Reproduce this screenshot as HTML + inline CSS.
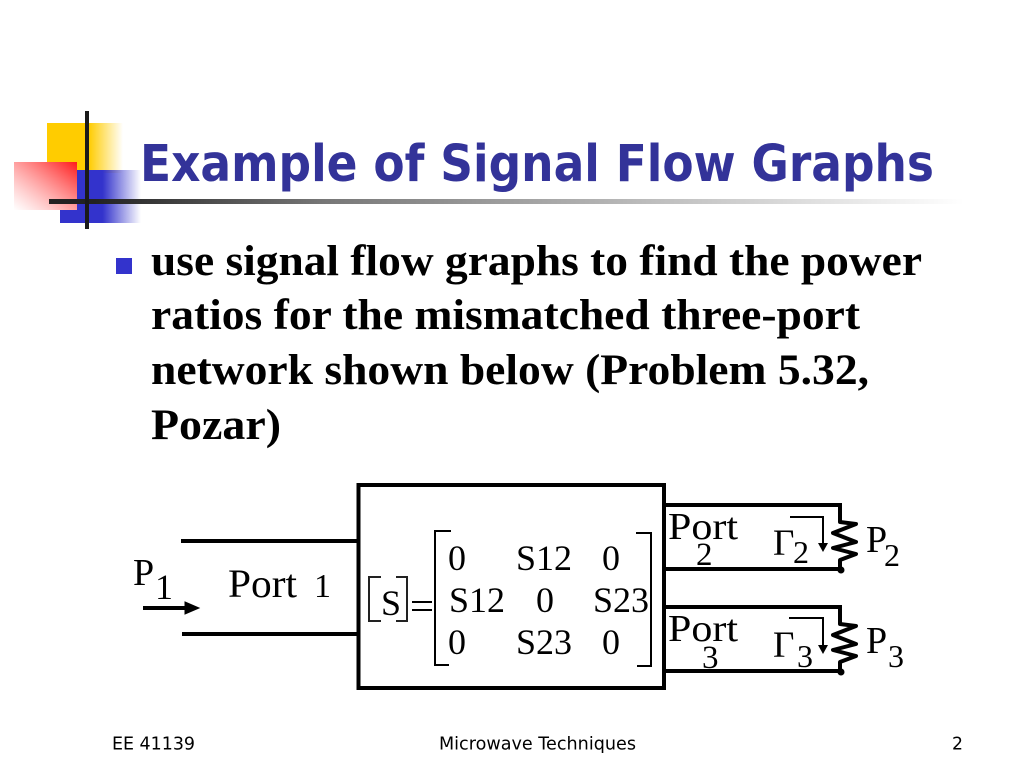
<!DOCTYPE html>
<html><head><meta charset="utf-8"><style>html,body{margin:0;padding:0;background:#fff}svg{display:block}</style></head>
<body>
<svg xmlns="http://www.w3.org/2000/svg" width="1024" height="768" viewBox="0 0 1024 768">
<defs>
<linearGradient id="y" x1="0" x2="1" y1="0" y2="0"><stop offset="0.55" stop-color="#ffcc00"/><stop offset="1" stop-color="#ffcc00" stop-opacity="0"/></linearGradient>
<linearGradient id="b" x1="0" x2="1" y1="0" y2="0"><stop offset="0.4" stop-color="#3333cc"/><stop offset="1" stop-color="#3333cc" stop-opacity="0"/></linearGradient>
<linearGradient id="r" x1="1" x2="0" y1="0" y2="1"><stop offset="0" stop-color="#ff1a1a"/><stop offset="1" stop-color="#ff6666" stop-opacity="0"/></linearGradient>
<linearGradient id="h" x1="0" x2="1" y1="0" y2="0"><stop offset="0.05" stop-color="#222"/><stop offset="0.3" stop-color="#777"/><stop offset="1" stop-color="#fff"/></linearGradient>
</defs>
<rect x="47" y="123" width="76" height="50" fill="url(#y)"/>
<rect x="77" y="170" width="64" height="53" fill="url(#b)"/>
<rect x="60" y="210" width="30" height="13" fill="#3333cc"/>
<rect x="14" y="162" width="63" height="48" fill="#fff"/>
<rect x="14" y="162" width="63" height="48" fill="url(#r)"/>
<rect x="49" y="199" width="915" height="5" fill="url(#h)"/>
<rect x="85" y="111" width="4" height="118" fill="#1a1a1a"/>

<text x="140" y="181" font-family="'DejaVu Sans',sans-serif" font-weight="bold" font-size="51" fill="#333399" textLength="794" lengthAdjust="spacingAndGlyphs">Example of Signal Flow Graphs</text>

<rect x="116" y="258" width="16" height="16" fill="#3333cc"/>
<g font-family="'Liberation Serif',serif" font-weight="bold" font-size="43" fill="#000">
<text x="151" y="275" textLength="771" lengthAdjust="spacingAndGlyphs">use signal flow graphs to find the power</text>
<text x="151" y="329" textLength="709" lengthAdjust="spacingAndGlyphs">ratios for the mismatched three-port</text>
<text x="151" y="384" textLength="718" lengthAdjust="spacingAndGlyphs">network shown below (Problem 5.32,</text>
<text x="151" y="439" textLength="130" lengthAdjust="spacingAndGlyphs">Pozar)</text>
</g>

<g stroke="#000" fill="none" stroke-linecap="butt">
<rect x="358.500" y="485" width="305.500" height="203" stroke-width="4"/>
<path d="M181 541H358M182 634H358" stroke-width="4"/>
<path d="M664 505H840V516M664 569H840M664 607H840V618M664 671H840" stroke-width="4"/>
<path d="M840 516V522 L856 524 L833 533 L856 542 L833 548 L856 554 L840 560 V571" stroke-width="4" stroke-linejoin="round"/>
<path d="M840 618V624 L856 626 L833 635 L856 644 L833 650 L856 656 L840 662 V673" stroke-width="4" stroke-linejoin="round"/>
<path d="M143 608H188" stroke-width="4"/>
<path d="M790 517H823V545M789 618H823V647" stroke-width="2"/>
<path d="M451 531H435V665H449" stroke-width="2"/>
<path d="M636 533H651V666H637" stroke-width="2"/>
<path d="M381 577H369V621H381M396 577H407V621H396" stroke-width="2" stroke="#222"/>
<path d="M412 602H432M412 610H432" stroke-width="2"/>
</g>
<path d="M185 602L199 608L185 614Z" fill="#000" stroke="#000"/>
<path d="M818 543H828L823 552Z" fill="#000"/>
<path d="M818 645H828L823 654Z" fill="#000"/>
<circle cx="841" cy="570" r="3.500" fill="#000"/>
<circle cx="841" cy="672" r="3.500" fill="#000"/>

<g font-family="'Liberation Serif',serif" fill="#000">
<text x="133" y="585" font-size="38">P</text>
<text x="155" y="599" font-size="36">1</text>
<text x="228" y="597" font-size="40" textLength="69" lengthAdjust="spacingAndGlyphs">Port</text>
<text x="314" y="597" font-size="34">1</text>
<text x="381" y="615" font-size="36">S</text>

<g font-size="36">
<text x="448" y="570">0</text><text x="516" y="570" textLength="56">S12</text><text x="602" y="570">0</text>
<text x="449" y="612" textLength="56">S12</text><text x="536" y="612">0</text><text x="593" y="612" textLength="56">S23</text>
<text x="448" y="654">0</text><text x="516" y="654" textLength="56">S23</text><text x="602" y="654">0</text>
</g>

<text x="668" y="539" font-size="38" textLength="70" lengthAdjust="spacingAndGlyphs">Port</text>
<text x="696" y="565" font-size="33">2</text>
<text x="668" y="641" font-size="38" textLength="70" lengthAdjust="spacingAndGlyphs">Port</text>
<text x="702" y="668" font-size="33">3</text>

<text x="773" y="555" font-size="37">Γ</text>
<text x="793" y="563" font-size="32">2</text>
<text x="773" y="657" font-size="37">Γ</text>
<text x="797" y="667" font-size="32">3</text>

<text x="866" y="552" font-size="38">P</text>
<text x="884" y="566" font-size="32">2</text>
<text x="866" y="653" font-size="38">P</text>
<text x="888" y="667" font-size="32">3</text>
</g>

<g font-family="'DejaVu Sans',sans-serif" font-size="18" fill="#000">
<text x="112" y="749.500" textLength="83" lengthAdjust="spacingAndGlyphs">EE 41139</text>
<text x="439" y="749.500" textLength="197" lengthAdjust="spacingAndGlyphs">Microwave Techniques</text>
<text x="952" y="749.500" textLength="11" lengthAdjust="spacingAndGlyphs">2</text>
</g>
</svg>
</body></html>
